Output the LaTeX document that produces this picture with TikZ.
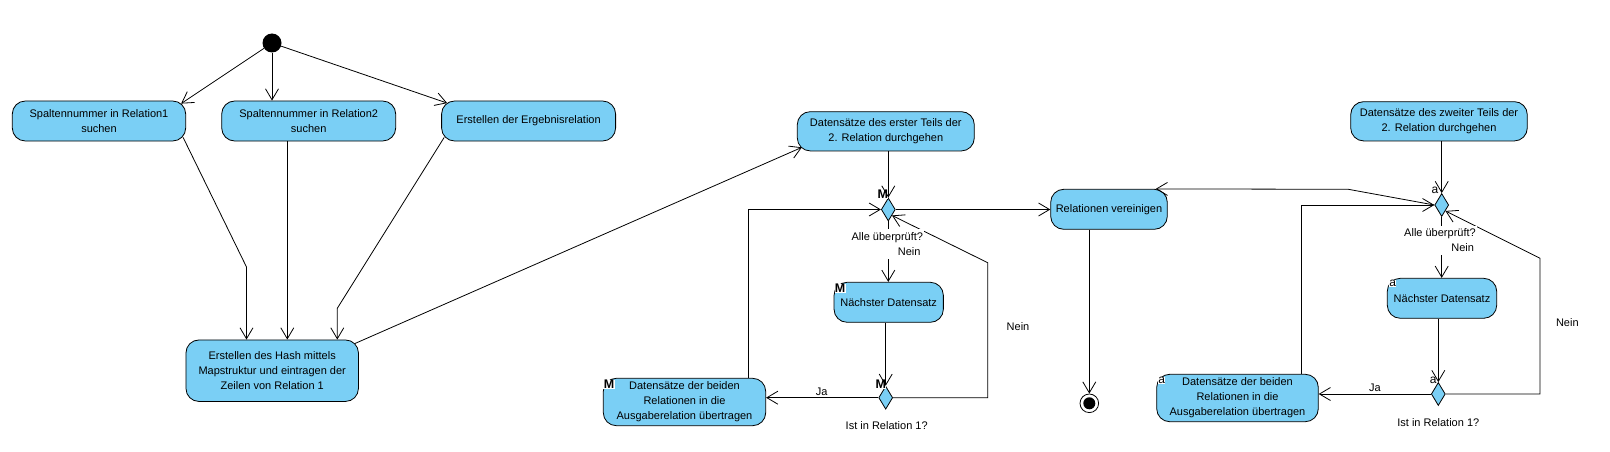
\documentclass[tikz,border=0pt]{standalone}
\usepackage{fontspec}
\setmainfont{Liberation Sans}
\usetikzlibrary{arrows.meta,shapes.geometric}
\definecolor{actblue}{RGB}{122,207,245}
\begin{document}
\begin{tikzpicture}[x=1pt,y=-1pt,
  act/.style={draw=black, line width=0.8pt, fill=actblue, rounded corners=13pt, align=center, inner sep=2pt, font=\fontsize{11}{15}\selectfont},
  dec/.style={draw=black, line width=0.8pt, fill=actblue, diamond, minimum width=14pt, minimum height=23pt, inner sep=0pt},
  conn/.style={line width=0.8pt, -{Straight Barb[length=11pt,width=13pt]}},
  lbl/.style={font=\fontsize{11}{13}\selectfont, inner sep=1pt},
  mmark/.style={font=\bfseries\fontsize{12.5}{12.5}\selectfont, fill=white, inner sep=0.3pt},
  amark/.style={font=\fontsize{12}{12}\selectfont, fill=white, inner sep=0.3pt}]
\fill[white] (0,0) rectangle (1610,452);
\useasboundingbox (0,0) rectangle (1610,452);

% nodes
\node[circle, fill=black, minimum size=19pt, inner sep=0pt] (start) at (272,43) {};
\node[act, minimum width=173.4pt, minimum height=40pt] (b1) at (99,121) {Spaltennummer in Relation1\\suchen};
\node[act, minimum width=174pt, minimum height=40pt] (b2) at (308.7,121) {Spaltennummer in Relation2\\suchen};
\node[act, minimum width=174pt, minimum height=40pt] (b3) at (528.6,121) {Erstellen der Ergebnisrelation};
\node[act, minimum width=172.5pt, minimum height=61.5pt] (hash) at (272.2,370.7) {Erstellen des Hash mittels\\Mapstruktur und eintragen der\\Zeilen von Relation 1};
\node[act, minimum width=177pt, minimum height=39.3pt] (A) at (885.8,131.3) {Datensätze des erster Teils der\\2. Relation durchgehen};
\node[dec] (d1) at (888.3,209.5) {};
\node[act, minimum width=116.6pt, minimum height=40pt] (R) at (1109,209.3) {Relationen vereinigen};
\node[act, minimum width=109.3pt, minimum height=40pt] (N1) at (888.7,302.3) {Nächster Datensatz};
\node[dec] (d2) at (885.7,397.7) {};
\node[act, minimum width=162.4pt, minimum height=47.4pt] (D1) at (684.5,402) {Datensätze der beiden\\Relationen in die\\Ausgaberelation übertragen};
\node[circle, draw=black, line width=0.8pt, fill=white, minimum size=18.6pt, inner sep=0pt] (end) at (1089.3,403.3) {};
\node[circle, fill=black, minimum size=12pt, inner sep=0pt] (endin) at (end) {};
\node[act, minimum width=176.6pt, minimum height=39.3pt] (B) at (1439,121.3) {Datensätze des zweiter Teils der\\2. Relation durchgehen};
\node[dec] (d3) at (1441.7,205) {};
\node[act, minimum width=109.4pt, minimum height=40pt] (N2) at (1442,298.3) {Nächster Datensatz};
\node[dec] (d4) at (1438.3,394) {};
\node[act, minimum width=161.6pt, minimum height=47.4pt] (D2) at (1237.5,398) {Datensätze der beiden\\Relationen in die\\Ausgaberelation übertragen};

% marks
\node[mmark] (m1) at (882.7,194) {M};
\node[mmark] (m2) at (840,288.3) {M};
\node[mmark] (m3) at (880.7,384.3) {M};
\node[mmark] (m4) at (609,384.3) {M};
\node[amark] (a1) at (1435,190.7) {a};
\node[amark] (a2) at (1392.7,283.3) {a};
\node[amark] (a3) at (1433.3,380) {a};
\node[amark] (a4) at (1161.7,380.7) {a};

% connectors
\draw[conn] (start) -- ([xshift=-5pt,yshift=-3pt]b1.north east);
\draw[conn] (start) -- (start |- b2.north);
\draw[conn] (start) -- ([xshift=6pt,yshift=-2.5pt]b3.north west);
\coordinate (k1) at (246.5,267);
\draw[conn] ([xshift=-3pt,yshift=4pt]b1.south east) -- (k1) -- (k1 |- hash.north);
\draw[conn] ([xshift=-21.4pt]b2.south) -- ([xshift=-21.4pt]b2.south |- hash.north);
\coordinate (k3) at (337.3,308.3);
\draw[conn] ([xshift=3pt,yshift=4pt]b3.south west) -- (k3) -- (k3 |- hash.north);
\draw[conn] ([xshift=-4pt,yshift=-4pt]hash.north east) -- ([xshift=5pt,yshift=4pt]A.south west);
\draw[conn] (d1.north |- A.south) -- (d1.north);
\draw[conn] (d1.east) -- (d1.east -| R.west);
\draw[conn] (d1.south) -- (d1.south |- N1.north);
\draw[conn] (d2.north |- N1.south) -- (d2.north);
\draw[conn] (d2.west) -- (d2.west -| D1.east);
\coordinate (k4) at (987.7,262.7);
\draw[conn] (d2.east) -- (d2.east -| k4) -- (k4) -- (d1.south east);
\draw[conn] ([xshift=-18pt]D1.north east) |- (d1.west);
\draw[conn] (end |- R.south) -- (end);

\draw[conn] (d3.north |- B.south) -- (d3.north);
\coordinate (k5) at (1348.3,189.3);
\draw[conn] (d3.west) -- (k5) -- ([xshift=-12pt]R.north east);
\draw[conn] (d3.south) -- (d3.south |- N2.north);
\draw[conn] (d4.north |- N2.south) -- (d4.north);
\draw[conn] (d4.west) -- (d4.west -| D2.east);
\coordinate (k6) at (1540,258.3);
\draw[conn] (d4.east) -- (d4.east -| k6) -- (k6) -- (d3.south east);
\draw[conn] ([xshift=-17.6pt]D2.north east) |- (d3.west);

% labels
\node[lbl, fill=white, text width=34pt, align=right, minimum height=15pt] (n1) at (903.5,251.7) {Nein};
\node[lbl, fill=white, minimum height=17pt] (q1) at (887.3,237.7) {Alle überprüft?};
\node[lbl] (ja1) at (821.7,391.7) {Ja};
\node[lbl] (nn1) at (1018,327) {Nein};
\node[lbl] (ir1) at (886.7,425.7) {Ist in Relation 1?};
\node[lbl, fill=white, text width=34pt, align=right, minimum height=15pt] (n2) at (1457,247.7) {Nein};
\node[lbl, fill=white, minimum height=17pt] (q2) at (1440,234) {Alle überprüft?};
\node[lbl] (ja2) at (1375,387.3) {Ja};
\node[lbl] (nn2) at (1567.3,322.7) {Nein};
\node[lbl] (ir2) at (1438.3,422.3) {Ist in Relation 1?};
\end{tikzpicture}
\end{document}
